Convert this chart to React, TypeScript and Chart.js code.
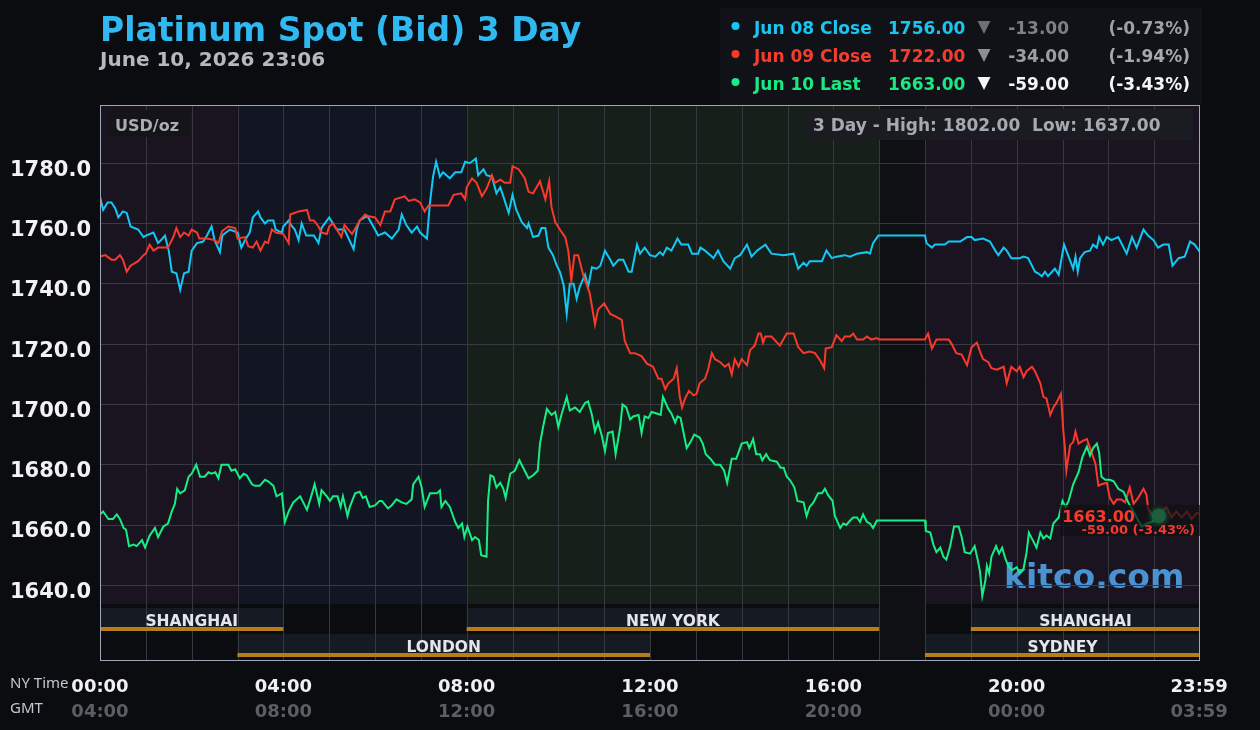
import React, { useEffect, useRef } from "react";
import { Chart, registerables } from "chart.js";

Chart.register(...registerables);

// ---------- DATA (minutes since 00:00 NY time, USD/oz) ----------
const jun08Close: [number, number][] = [
  [0,1769],[4,1764.5],[10,1767],[15,1767],[20,1765],[24,1762],[30,1764],[35,1763.5],[40,1759],[50,1758],[57,1755.5],[60,1756],[70,1757],[76,1753.5],[80,1754.5],[85,1756],[90,1751],[94,1744],[100,1743.5],[105,1738],[110,1743.5],[116,1744],[120,1751],[127,1753.5],[135,1754],[140,1756],[146,1759],[150,1754.5],[157,1750.5],[160,1756],[170,1758],[180,1757],[185,1752],[190,1754.5],[196,1757],[200,1762],[207,1764],[210,1762],[216,1760],[220,1761],[227,1761],[230,1758],[238,1757],[240,1759],[247,1761],[250,1759.5],[255,1758],[260,1754.5],[264,1760],[270,1756],[280,1756],[286,1753.5],[290,1758.5],[300,1762],[310,1758],[320,1758],[332,1751.5],[336,1758],[340,1761],[350,1762.5],[360,1758],
  [364,1756],[373,1757],[382,1755],[391,1758],[395,1763],[401,1759.5],[408,1757],[415,1759],[419,1757],[428,1755],[432,1767],[436,1775.5],[440,1780.5],[445,1775.5],[449,1777],[458,1775],[465,1777],[473,1777],[478,1780.5],[484,1780],[492,1781.5],[495,1776],[502,1778],[506,1776],[513,1775.5],[519,1770],[524,1772],[528,1769],[535,1763.5],[540,1769.5],[545,1764.5],[552,1760.5],[559,1758.5],[561,1760],[567,1755.5],[574,1756],[578,1758.5],[583,1758.5],[587,1752],[593,1749.5],[598,1746],[602,1744],[607,1739.5],[611,1730],[615,1740],[620,1740],[624,1735],[628,1739],[635,1743],[639,1739],[644,1745.5],[650,1745],[655,1746],[661,1751],[668,1748],[672,1746],[679,1748],[685,1748],[692,1744],[696,1744],[703,1753],[707,1750],[713,1752],[720,1749.5],
  [727,1749],[733,1750.5],[737,1749.5],[742,1752],[748,1751],[756,1755],[761,1753],[770,1753],[775,1750],[783,1750],[786,1752],[792,1751],[799,1749.5],[803,1748.5],[809,1751],[816,1747.5],[825,1745],[831,1748.5],[838,1749.5],[847,1753],[853,1749],[860,1751],[871,1753],[879,1750],[895,1749.5],[908,1750],[914,1745],[921,1747],[925,1746],[929,1747.5],[945,1747.5],[951,1751],[958,1748.5],[964,1749],[975,1749.5],[982,1749],[991,1750],[1004,1750.5],[1008,1750],[1012,1753.5],[1019,1756],[1080,1756],[1082,1753.5],
  [1084,1753],[1089,1752],[1093,1753],[1106,1753],[1111,1754],[1126,1754],[1135,1755.5],[1141,1755.5],[1145,1754.5],[1156,1755],[1165,1754],[1172,1751],[1176,1749.5],[1183,1752],[1187,1751],[1193,1748.5],[1204,1748.5],[1209,1749],[1215,1748.5],[1224,1744],[1228,1743.5],[1233,1742.5],[1237,1744],[1241,1742.5],[1250,1745],[1255,1743],[1262,1753],[1268,1749],[1274,1745],[1277,1749],[1280,1744],[1283,1748.5],[1289,1750.5],[1296,1751],[1300,1753],[1305,1752],[1308,1755.5],[1313,1753],[1318,1755.5],[1324,1754.5],[1333,1755.5],[1340,1752],[1344,1750],[1351,1755.5],[1357,1752],[1366,1758],[1372,1756],[1379,1754.5],[1385,1752],[1392,1753],[1399,1753],[1404,1746],[1412,1748.5],[1420,1749],[1427,1754],[1433,1753],[1440,1750.5]
];

const jun09Close: [number, number][] = [
  [0,1749],[7,1749.5],[15,1748],[20,1748],[26,1749.5],[30,1748],[35,1744],[40,1746],[50,1747.5],[57,1749.5],[60,1750],[65,1753],[70,1751],[76,1752],[89,1752],[96,1755.5],[100,1758.5],[105,1755.5],[110,1757],[116,1756],[120,1758],[127,1757],[130,1755],[140,1755],[150,1754.5],[155,1753.5],[160,1757.5],[168,1759],[177,1758.5],[180,1755],[190,1755.5],[194,1752.5],[200,1752],[205,1754],[210,1751],[216,1754],[220,1753.5],[225,1758],[230,1757],[240,1756.5],[247,1753.5],[249,1763],[260,1764],[271,1764.5],[275,1761],[280,1761],[286,1759],[290,1757],[297,1756.5],[300,1759],[305,1760],[310,1758],[316,1755.5],[320,1759.5],[330,1756.5],[340,1761],[347,1763],[350,1762.5],[360,1762],
  [367,1759.5],[373,1764],[380,1764],[386,1768],[399,1769],[404,1767.5],[412,1768],[419,1767],[425,1764],[430,1766],[436,1766],[456,1766],[463,1769.5],[473,1770],[478,1768],[480,1772],[487,1775],[493,1773.5],[500,1769],[506,1771.5],[513,1776],[517,1773.5],[524,1774.5],[530,1773.5],[537,1773.5],[540,1779],[548,1778],[556,1775],[561,1770.5],[567,1770],[576,1774],[583,1768],[588,1774],[591,1765.5],[596,1760.5],[602,1758],[609,1755.5],[613,1751],[617,1741],[621,1749.5],[626,1749.5],[633,1742.5],[641,1737],[648,1726.5],[652,1731.5],[660,1733.5],[668,1730],[676,1729],[683,1728],[687,1721],[694,1717],[700,1717],[709,1716],[716,1713.5],[724,1712.5],
  [731,1708.5],[735,1708.5],[740,1705],[744,1707],[751,1708.5],[755,1712],[759,1702.5],[762,1699],[766,1702],[771,1704.5],[777,1703],[781,1703.5],[785,1707],[792,1708.5],[796,1711.5],[801,1717],[805,1715],[812,1714],[818,1712.5],[823,1713.5],[827,1710],[831,1715],[836,1712.5],[840,1715],[847,1713],[851,1718],[857,1719.5],[862,1723.5],[865,1723.5],[868,1720.5],[871,1722.5],[879,1722.5],[890,1719.5],[899,1723.5],[908,1723.5],[914,1719],[921,1717],[929,1717.5],[936,1717],[943,1714.5],[948,1712],[950,1718.5],[958,1719],[964,1723],[971,1721],[975,1722.5],[982,1722.5],[986,1723.5],[991,1721.5],[999,1721.5],[1004,1722.5],[1010,1721.5],[1017,1722],[1020,1721.5],[1080,1721.5],
  [1084,1723.5],[1089,1718.5],[1095,1721.5],[1111,1721.5],[1115,1720],[1121,1717],[1128,1716.5],[1135,1713],[1141,1719],[1148,1720.5],[1152,1717.5],[1156,1715],[1163,1714],[1167,1712],[1174,1711.5],[1183,1712.5],[1187,1707],[1193,1712.5],[1200,1711],[1204,1712.5],[1209,1709],[1213,1711],[1220,1712.5],[1224,1711],[1231,1707],[1235,1702.5],[1239,1702],[1244,1696.5],[1248,1699],[1252,1700.5],[1258,1703.5],[1261,1691.5],[1263,1686],[1265,1678],[1270,1686.5],[1274,1687.5],[1277,1691],[1281,1687],[1287,1688],[1292,1688.5],[1298,1684],[1303,1680.5],[1307,1673],[1311,1673.5],[1318,1674],[1322,1669],[1327,1667],[1331,1668.5],[1337,1668.5],[1342,1667.5],[1348,1672.5],[1353,1667],[1359,1669],[1366,1672],[1370,1670],[1372,1665.5],[1377,1663.5],[1383,1664.5],[1390,1664.5],[1396,1666],[1403,1662.5],[1409,1664.5],[1416,1662.5],[1423,1664.5],[1429,1662],[1436,1664],[1440,1663.5]
];

const jun10Last: [number, number][] = [
  [0,1663.5],[4,1664.5],[11,1662],[17,1662],[22,1663.5],[26,1662],[31,1659],[34,1658.5],[38,1653],[44,1653.5],[48,1653],[55,1655],[59,1652.5],[65,1656.5],[72,1659],[76,1656],[83,1659.5],[89,1660.5],[94,1664.5],[98,1667],[101,1672],[105,1670.5],[111,1671.5],[116,1676],[120,1677],[126,1680],[131,1676],[137,1676],[142,1677.5],[146,1677],[151,1677.5],[155,1675.5],[159,1680],[168,1680],[172,1678],[177,1678.5],[183,1675.5],[188,1677],[192,1676.5],[199,1673.5],[203,1673],[209,1673],[216,1675],[220,1674.5],[227,1673],[231,1669.5],[238,1670.5],[242,1661],[247,1664.5],[253,1667.5],[262,1669.5],[271,1665],[277,1670],[281,1673.5],[287,1667],[290,1671.5],[297,1669.5],[301,1668],[305,1669.5],[311,1669.5],[315,1666],[318,1669.5],[324,1663],[327,1666],[334,1670.5],[340,1671],[344,1669],[348,1669.5],[353,1666],[360,1666.5],
  [366,1668],[369,1668],[377,1665.5],[382,1666.5],[388,1668.5],[395,1667.5],[401,1667],[408,1668.5],[410,1673.5],[417,1676],[421,1672.5],[425,1666],[432,1670.5],[441,1670.5],[445,1671.5],[447,1666],[452,1668],[458,1666],[465,1661],[469,1659],[474,1660.5],[477,1656],[481,1659.5],[487,1655],[491,1656],[496,1655],[499,1650],[506,1649.5],[508,1668],[511,1676.5],[515,1676],[519,1672.5],[524,1674],[528,1672],[531,1669],[537,1677],[543,1678],[549,1681.5],[554,1679],[561,1675.5],[567,1676.5],[573,1678],[576,1687],[580,1692.5],[585,1698.5],[591,1696.5],[596,1697.5],[600,1692.5],[604,1696.5],[611,1702.5],[615,1698],[622,1699],[628,1697.5],[635,1700.5],[639,1701],[644,1696.5],[648,1691],[652,1694],[657,1689.5],[661,1684.5],[665,1690.5],[671,1691],[675,1683.5],[681,1692.5],[684,1700],[689,1699],[694,1695],[698,1696],[705,1696.5],[709,1690.5],[713,1696],[718,1695.5],[722,1697.5],
  [729,1697],[734,1696.5],[737,1702.5],[744,1698.5],[748,1697],[753,1694],[756,1696],[760,1695.5],[764,1690.5],[768,1685.5],[773,1687.5],[778,1690],[785,1689],[789,1687],[793,1683.5],[799,1682],[805,1680],[812,1680],[817,1678],[821,1674],[827,1682],[833,1682],[840,1687],[847,1687.5],[850,1685.5],[855,1688.5],[859,1683.5],[864,1683.5],[867,1681.5],[872,1683.5],[877,1681.5],[886,1681],[891,1679],[895,1679],[899,1676],[903,1675],[909,1672.5],[913,1668],[921,1667.5],[925,1663],[929,1666],[934,1667.5],[940,1670.5],[945,1670.5],[949,1672],[953,1670],[959,1668],[962,1663],[969,1659],[973,1660.5],[977,1660],[982,1661.5],[986,1662.5],[991,1662.5],[995,1661],[999,1663.5],[1004,1661],[1008,1660.5],[1012,1659],[1017,1661.5],[1080,1661.5],
  [1081,1658],[1087,1657.5],[1091,1653.5],[1095,1651],[1100,1652.5],[1104,1649.5],[1108,1648.5],[1113,1653],[1118,1659.5],[1124,1659.5],[1128,1656],[1132,1651],[1139,1650.5],[1145,1653],[1149,1648.5],[1152,1644.5],[1155,1636.5],[1159,1641.5],[1161,1646.5],[1164,1644],[1167,1649.5],[1173,1653],[1177,1650.5],[1181,1652.5],[1185,1649],[1189,1646.5],[1194,1645],[1200,1646],[1204,1644],[1209,1645.5],[1213,1651],[1216,1657.5],[1221,1655],[1226,1652.5],[1231,1657.5],[1235,1655.5],[1239,1656.5],[1244,1655.5],[1248,1660.5],[1255,1662.5],[1260,1668],[1264,1666],[1268,1668],[1274,1673.5],[1281,1677.5],[1286,1682.5],[1292,1686],[1296,1683],[1300,1685.5],[1305,1687],[1308,1684],[1311,1676],[1316,1675],[1322,1675],[1327,1674.5],[1333,1672],[1340,1671],[1346,1667.5],[1353,1664.5],[1359,1661.5],[1364,1659.5],[1370,1660.5],[1377,1661],[1383,1662.5],[1386,1663]
];

const yTicks = [1640, 1660, 1680, 1700, 1720, 1740, 1760, 1780];
const xTickMinutes = [0, 240, 480, 720, 960, 1200, 1439];
const nyTimeLabels = ["00:00", "04:00", "08:00", "12:00", "16:00", "20:00", "23:59"];
const gmtTimeLabels = ["04:00", "08:00", "12:00", "16:00", "20:00", "00:00", "03:59"];

// market zones (minutes) and session bars
const zones: [number, number, string][] = [
  [0, 180, "asia"], [180, 480, "london"], [480, 1020, "ny"], [1020, 1080, "closed"], [1080, 1440, "asia"],
];
const sessionsTop: [string, number, number][] = [
  ["SHANGHAI", 0, 240], ["NEW YORK", 480, 1020], ["SHANGHAI", 1140, 1440],
];
const sessionsBottom: [string, number, number][] = [
  ["LONDON", 180, 720], ["SYDNEY", 1080, 1440],
];

const legendRows = [
  { name: "Jun 08 Close", value: "1756.00", change: "-13.00", pct: "(-0.73%)" },
  { name: "Jun 09 Close", value: "1722.00", change: "-34.00", pct: "(-1.94%)" },
  { name: "Jun 10 Last", value: "1663.00", change: "-59.00", pct: "(-3.43%)" },
];
const lastValue = 1663.0;
const lastChange = "-59.00 (-3.43%)";
const highLowText = "3 Day - High: 1802.00  Low: 1637.00";

// ---------- STYLE ----------
const BLUE = "#12c8f4";
const RED = "#f8392c";
const GREEN = "#16ee85";
const FONT = '"DejaVu Sans", sans-serif';
const zoneColors: Record<string, string> = {
  asia: "#1a1320",
  london: "#111622",
  ny: "#171f1a",
  closed: "#0f1014",
};
const legendStyles = [
  { label: "#19c6f2", tri: "#6c6f77", change: "#7d8088", pct: "#9da1a9" },
  { label: "#f53d2f", tri: "#8b8e95", change: "#9b9ea5", pct: "#a6a9b0" },
  { label: "#1ae882", tri: "#f5f5f5", change: "#f5f5f5", pct: "#f5f5f5" },
];

const PLOT_BOTTOM_FRAME = 660;

const decorPlugin = {
  id: "decor",
  beforeDraw(chart: any) {
    const { ctx, chartArea, scales } = chart;
    const x = scales.x;
    ctx.save();
    ctx.fillStyle = "#0b0c10";
    ctx.fillRect(0, 0, chart.width, chart.height);

    for (const [a, b, k] of zones) {
      const xa = x.getPixelForValue(a);
      const xb = x.getPixelForValue(b);
      ctx.fillStyle = zoneColors[k];
      const bottom = k === "closed" ? PLOT_BOTTOM_FRAME : chartArea.bottom;
      ctx.fillRect(xa, chartArea.top, xb - xa, bottom - chartArea.top);
    }

    const rows: [typeof sessionsTop, number][] = [[sessionsTop, chartArea.bottom + 4], [sessionsBottom, chartArea.bottom + 30]];
    for (const [list, top] of rows) {
      for (const [, a, b] of list) {
        const xa = x.getPixelForValue(a);
        const xb = x.getPixelForValue(b);
        ctx.fillStyle = "#151a23";
        ctx.fillRect(xa, top, xb - xa, 23);
      }
    }

    ctx.strokeStyle = "#363840";
    ctx.lineWidth = 1;
    for (let h = 1; h < 24; h++) {
      const px = Math.round(x.getPixelForValue(h * 60)) + 0.5;
      ctx.beginPath();
      ctx.moveTo(px, chartArea.top);
      ctx.lineTo(px, PLOT_BOTTOM_FRAME);
      ctx.stroke();
    }

    for (const [list, top] of rows) {
      for (const [name, a, b] of list) {
        const xa = x.getPixelForValue(a);
        const xb = x.getPixelForValue(b);
        ctx.fillStyle = "#b77e18";
        ctx.fillRect(xa, top + 19, xb - xa, 4);
        ctx.fillStyle = "#e4e6ea";
        ctx.font = `bold 15.5px ${FONT}`;
        ctx.textAlign = "center";
        ctx.textBaseline = "alphabetic";
        ctx.fillText(name, (xa + xb) / 2, top + 18);
      }
    }

    ctx.fillStyle = "#4b92d2";
    ctx.font = `bold 33px ${FONT}`;
    ctx.textAlign = "left";
    ctx.fillText("kitco.com", 1004, 588);
    ctx.restore();
  },
  afterDraw(chart: any) {
    const { ctx, chartArea, scales } = chart;
    const x = scales.x;
    const y = scales.y;
    ctx.save();

    ctx.strokeStyle = "#9ea6b8";
    ctx.lineWidth = 1;
    ctx.strokeRect(chartArea.left + 0.5, chartArea.top + 0.5, chartArea.right - chartArea.left - 1, PLOT_BOTTOM_FRAME - chartArea.top);

    ctx.textAlign = "left";
    ctx.textBaseline = "alphabetic";
    ctx.fillStyle = "#30b8f0";
    ctx.font = `bold 33px ${FONT}`;
    ctx.fillText("Platinum Spot (Bid) 3 Day", 100, 41);
    ctx.fillStyle = "#b5b8c0";
    ctx.font = `bold 20px ${FONT}`;
    ctx.fillText("June 10, 2026 23:06", 100, 66);

    ctx.fillStyle = "#111217";
    ctx.fillRect(720, 8, 482, 97);
    const dotColors = [BLUE, RED, GREEN];
    legendRows.forEach((r, i) => {
      const base = 34 + i * 28;
      const st = legendStyles[i];
      ctx.fillStyle = dotColors[i];
      ctx.beginPath();
      ctx.arc(735.5, base - 8, 4, 0, Math.PI * 2);
      ctx.fill();
      ctx.font = `bold 17px ${FONT}`;
      ctx.textAlign = "left";
      ctx.fillStyle = st.label;
      ctx.fillText(r.name, 754, base);
      ctx.fillText(r.value, 888, base);
      ctx.fillStyle = st.tri;
      ctx.beginPath();
      ctx.moveTo(977.5, base - 13);
      ctx.lineTo(990.5, base - 13);
      ctx.lineTo(984, base);
      ctx.closePath();
      ctx.fill();
      ctx.textAlign = "right";
      ctx.fillStyle = st.change;
      ctx.fillText(r.change, 1069, base);
      ctx.fillStyle = st.pct;
      ctx.fillText(r.pct, 1190, base);
    });

    ctx.fillStyle = "#151519";
    ctx.fillRect(108, 110, 82, 27);
    ctx.fillStyle = "#a9adb5";
    ctx.font = `bold 16px ${FONT}`;
    ctx.textAlign = "left";
    ctx.fillText("USD/oz", 115, 131);

    ctx.fillStyle = "#1b1c21";
    ctx.fillRect(806, 109, 387, 31);
    ctx.fillStyle = "#a5a9b1";
    ctx.font = `bold 17px ${FONT}`;
    ctx.fillText(highLowText, 813, 131);

    const last = jun10Last[jun10Last.length - 1];
    const px = x.getPixelForValue(last[0]);
    const py = y.getPixelForValue(lastValue);
    ctx.fillStyle = "rgba(17,17,21,0.72)";
    ctx.fillRect(1060, py - 11, chartArea.right - 1060, 31);
    ctx.beginPath();
    ctx.arc(px, py, 7, 0, Math.PI * 2);
    ctx.shadowColor = "rgba(30,220,120,0.6)";
    ctx.shadowBlur = 6;
    ctx.fillStyle = "#1d5f3d";
    ctx.fill();
    ctx.shadowBlur = 0;
    ctx.fillStyle = RED;
    ctx.textAlign = "right";
    ctx.font = `bold 16px ${FONT}`;
    ctx.fillText(lastValue.toFixed(2), 1135, py + 6);
    ctx.font = `bold 13px ${FONT}`;
    ctx.fillText(lastChange, 1195, py + 18);

    ctx.textAlign = "center";
    ctx.font = `bold 18px ${FONT}`;
    xTickMinutes.forEach((m, i) => {
      const tx = x.getPixelForValue(m);
      ctx.fillStyle = "#f0f0f0";
      ctx.fillText(nyTimeLabels[i], tx, 692);
      ctx.fillStyle = "#5c5e63";
      ctx.fillText(gmtTimeLabels[i], tx, 717);
    });
    ctx.textAlign = "left";
    ctx.fillStyle = "#c5c8ce";
    ctx.font = `15px "Noto Sans", sans-serif`;
    ctx.fillText("NY Time", 10, 688);
    ctx.fillText("GMT", 10, 713);
    ctx.restore();
  },
};

function toPoints(arr: [number, number][]) {
  return arr.map(([m, v]) => ({ x: m, y: v }));
}

export default function App() {
  const ref = useRef<HTMLCanvasElement | null>(null);
  useEffect(() => {
    if (!ref.current) return;
    const chart = new Chart(ref.current, {
      type: "line",
      data: {
        datasets: [
          { label: "Jun 10 Last", data: toPoints(jun10Last), borderColor: GREEN, borderWidth: 2, pointRadius: 0, tension: 0 },
          { label: "Jun 09 Close", data: toPoints(jun09Close), borderColor: RED, borderWidth: 2, pointRadius: 0, tension: 0 },
          { label: "Jun 08 Close", data: toPoints(jun08Close), borderColor: BLUE, borderWidth: 2, pointRadius: 0, tension: 0 },
        ],
      },
      options: {
        responsive: false,
        animation: false,
        maintainAspectRatio: false,
        layout: { padding: { left: 0, top: 105, right: 60, bottom: 126 } },
        plugins: { legend: { display: false }, tooltip: { enabled: false } },
        scales: {
          x: { type: "linear", min: 0, max: 1440, display: false },
          y: {
            min: 1633.8,
            max: 1799.3,
            afterFit: (s: any) => { s.width = 100; },
            afterBuildTicks: (s: any) => { s.ticks = yTicks.map((v) => ({ value: v })); },
            ticks: {
              autoSkip: false,
              callback: (v: any) => Number(v).toFixed(1),
              color: "#f2f2f2",
              font: { family: '"DejaVu Sans"', weight: "bold", size: 21 },
              padding: 9,
              labelOffset: 7,
            },
            grid: { color: "#383a42", drawTicks: false, lineWidth: 1 },
            border: { display: false },
          },
        },
      } as any,
      plugins: [decorPlugin],
    });
    return () => chart.destroy();
  }, []);
  return (
    <div style={{ position: "fixed", left: 0, top: 0, width: 1260, height: 730, background: "#0b0c10" }}>
      <canvas ref={ref} width={1260} height={730} style={{ width: 1260, height: 730, display: "block" }} />
    </div>
  );
}
